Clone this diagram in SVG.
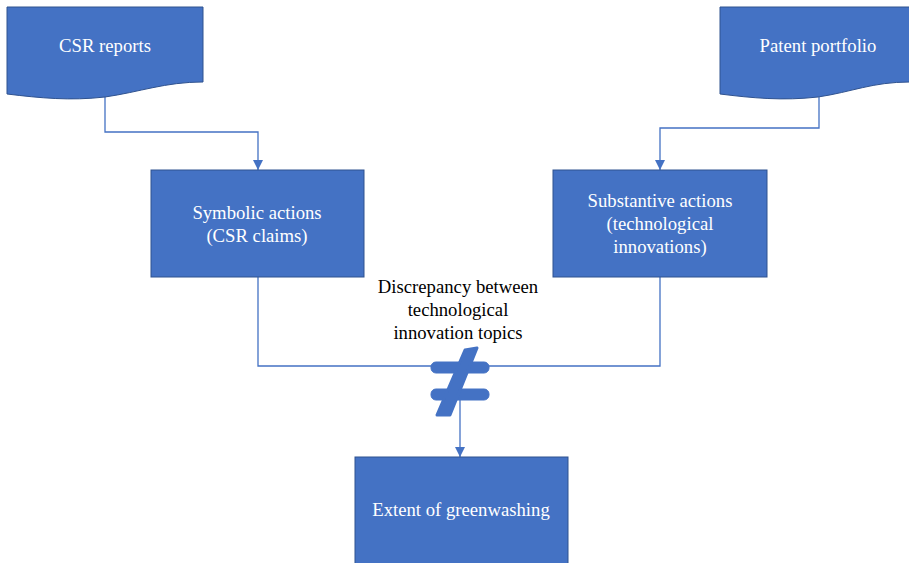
<svg xmlns="http://www.w3.org/2000/svg" width="909" height="563" viewBox="0 0 909 563">
  <style>
    .shape { fill: #4472C4; stroke: #2F528F; stroke-width: 1; }
    .label { font-family: "Liberation Serif", "Times New Roman", serif; font-size: 18.7px; fill: #FFFFFF; text-anchor: middle; }
    .note { font-family: "Liberation Serif", "Times New Roman", serif; font-size: 18.7px; fill: #000000; text-anchor: middle; }
    .wire { fill: none; stroke: #4472C4; stroke-width: 1.3; }
  </style>
  <defs>
    <marker id="arrow" viewBox="0 0 10 10" refX="10" refY="5" markerWidth="10" markerHeight="10" markerUnits="userSpaceOnUse" orient="auto">
      <path d="M0,0 L10,5 L0,10 Z" fill="#4472C4"/>
    </marker>
  </defs>
  <rect width="909" height="563" fill="#FFFFFF"/>

  <g id="connectors">
    <path class="wire" d="M105,97 V132 H258 V170" marker-end="url(#arrow)"/>
    <path class="wire" d="M819,97 V128 H660 V170" marker-end="url(#arrow)"/>
    <path class="wire" d="M258,277 V366 H660 V277"/>
    <path class="wire" d="M460,400 V457" marker-end="url(#arrow)"/>
  </g>

  <g id="csr-reports">
    <path class="shape" d="M7,7 H203 V82 C165,82 140,92 105,97 C70,101 40,98 7,94 Z"/>
    <text class="label" x="105" y="52">CSR reports</text>
  </g>

  <g id="patent-portfolio">
    <path class="shape" d="M720,7 H910 V82 C872,82 852,92 818,97 C783,101 752,98 720,94 Z"/>
    <text class="label" x="818" y="52">Patent portfolio</text>
  </g>

  <g id="symbolic-actions">
    <rect class="shape" x="151" y="170" width="213" height="107"/>
    <text class="label" x="257" y="219">Symbolic actions</text>
    <text class="label" x="257" y="242">(CSR claims)</text>
  </g>

  <g id="substantive-actions">
    <rect class="shape" x="553" y="170" width="214" height="107"/>
    <text class="label" x="660" y="207">Substantive actions</text>
    <text class="label" x="660" y="230">(technological</text>
    <text class="label" x="660" y="253">innovations)</text>
  </g>

  <g id="discrepancy">
    <text class="note" x="458" y="293">Discrepancy between</text>
    <text class="note" x="458" y="316">technological</text>
    <text class="note" x="458" y="339">innovation topics</text>
    <g fill="#4472C4" stroke="#4472C4" stroke-linejoin="round">
      <rect x="431" y="362" width="58" height="11" rx="5"/>
      <rect x="431" y="389" width="58" height="11" rx="5"/>
      <path d="M465,350 L477,348 L450,415 L437,415 Z" stroke-width="3"/>
    </g>
  </g>

  <g id="extent-of-greenwashing">
    <rect class="shape" x="355" y="457" width="213" height="112"/>
    <text class="label" x="461" y="516">Extent of greenwashing</text>
  </g>
</svg>
